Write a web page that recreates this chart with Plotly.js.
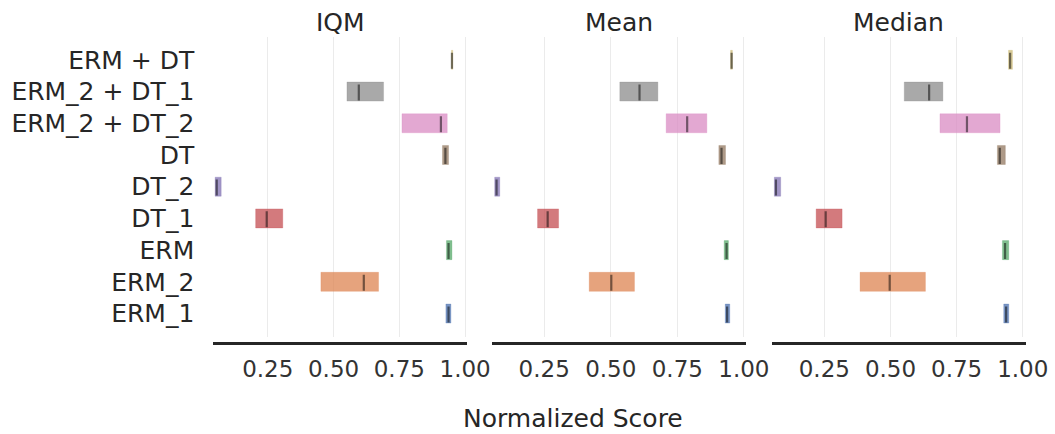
<!DOCTYPE html>
<html>
<head>
<meta charset="utf-8">
<script src="https://cdn.plot.ly/plotly-3.0.1.min.js"></script>
<style>html,body{margin:0;padding:0;background:#fff;} #chart{width:1055px;height:434px;}</style>
</head>
<body>
<div id="chart"></div>
<script>
const categories = ['ERM_1','ERM_2','ERM','DT_1','DT_2','DT','ERM_2 + DT_2','ERM_2 + DT_1','ERM + DT'];
const colors = ['#4c72b0','#dd8452','#55a868','#c44e52','#8172b3','#937860','#da8bc3','#8c8c8c','#ccb974'];
const metrics = ['IQM','Mean','Median'];

const iqmLower  = [0.927,0.452,0.929,0.204,0.050,0.914,0.760,0.551,0.948];
const iqmUpper  = [0.946,0.671,0.950,0.307,0.073,0.937,0.932,0.690,0.953];
const iqmPoint  = [0.937,0.615,0.937,0.246,0.056,0.925,0.908,0.596,0.950];

const meanLower = [0.930,0.419,0.926,0.225,0.064,0.906,0.708,0.534,0.950];
const meanUpper = [0.947,0.589,0.942,0.304,0.083,0.931,0.861,0.677,0.957];
const meanPoint = [0.937,0.502,0.935,0.263,0.071,0.916,0.787,0.608,0.954];

const medLower  = [0.928,0.385,0.923,0.219,0.061,0.904,0.687,0.552,0.946];
const medUpper  = [0.947,0.632,0.947,0.317,0.085,0.934,0.914,0.698,0.961];
const medPoint  = [0.937,0.497,0.933,0.255,0.067,0.913,0.789,0.646,0.952];

const tickVals = [0.25,0.5,0.75,1.0];
const tickText = ['0.25','0.50','0.75','1.00'];

const panels = [
  {lower: iqmLower, upper: iqmUpper, point: iqmPoint, range:[0.043,1.006], dom:[213.3,466.7]},
  {lower: meanLower, upper: meanUpper, point: meanPoint, range:[0.055,1.008], dom:[492.3,746]},
  {lower: medLower, upper: medUpper, point: medPoint, range:[0.051,1.011], dom:[771.7,1025.7]}
];

function hexA(h, a){
  const r=parseInt(h.slice(1,3),16), g=parseInt(h.slice(3,5),16), b=parseInt(h.slice(5,7),16);
  return `rgba(${r},${g},${b},${a})`;
}

const W=1055, H=434;
const barH = 0.6;
const yIdx = categories.map((c,i)=>i);
const traces=[];
const layout = {
  width:W, height:H,
  margin:{l:0,r:0,t:0,b:0},
  paper_bgcolor:'#fff', plot_bgcolor:'#fff',
  showlegend:false,
  font:{family:'DejaVu Sans', color:'#262626'},
  annotations:[], shapes:[]
};
const yTop = 1-36.7/H, yBot = 1-336.7/H, axisPos = 1-343.3/H;

panels.forEach((p,k)=>{
  const sx = k===0?'':String(k+1);
  const xa='x'+sx, ya='y'+sx;
  traces.push({
    type:'bar', orientation:'h', xaxis:xa, yaxis:ya,
    y:yIdx, base:p.lower, x:p.lower.map((l,i)=>p.upper[i]-l),
    width:barH,
    marker:{color:colors.map(c=>hexA(c,0.75)), line:{width:0.8,color:colors.map(c=>hexA(c,0.35))}},
    hoverinfo:'skip'
  });
  const lx=[], ly=[];
  p.point.forEach((v,i)=>{ lx.push(v,v,null); ly.push(i-7.5*barH/16, i+6*barH/16, null); });
  traces.push({
    type:'scatter', mode:'lines', xaxis:xa, yaxis:ya,
    x:lx, y:ly, line:{color:'rgba(0,0,0,0.5)', width:2.2}, hoverinfo:'skip'
  });
  layout['xaxis'+sx] = {
    domain:[p.dom[0]/W, p.dom[1]/W], range:p.range, anchor:'free', position:axisPos,
    tickvals:tickVals, ticktext:tickText, showgrid:true, gridcolor:'#ebebeb', gridwidth:1,
    zeroline:false, showline:true, linecolor:'#262626', linewidth:2.6,
    ticks:'outside', ticklen:4, tickcolor:'rgba(0,0,0,0)',
    tickfont:{size:23, color:'#333333', family:'DejaVu Sans'}, automargin:false, fixedrange:true
  };
  layout['yaxis'+sx] = {
    domain:[yBot, yTop], range:[-0.73, 8.73], anchor:xa,
    tickvals:yIdx, ticktext:categories, showticklabels:k===0,
    showgrid:false, zeroline:false, showline:false,
    ticks:k===0?'outside':'', ticklen:13, tickcolor:'rgba(0,0,0,0)',
    tickfont:{size:25, color:'#262626', family:'DejaVu Sans'}, automargin:false, fixedrange:true
  };
  layout.annotations.push({
    xref:'paper', yref:'paper', x:(p.dom[0]+p.dom[1])/2/W, y:1-22/H,
    xanchor:'center', yanchor:'middle', showarrow:false, text:metrics[k],
    font:{size:25, color:'#262626', family:'DejaVu Sans'}
  });
});
layout.annotations.push({
  xref:'paper', yref:'paper', x:573/W, y:1-418/H, xanchor:'center', yanchor:'middle',
  showarrow:false, text:'Normalized Score', font:{size:25, color:'#262626', family:'DejaVu Sans'}
});

Plotly.newPlot('chart', traces, layout, {displayModeBar:false, staticPlot:true});
</script>
</body>
</html>
